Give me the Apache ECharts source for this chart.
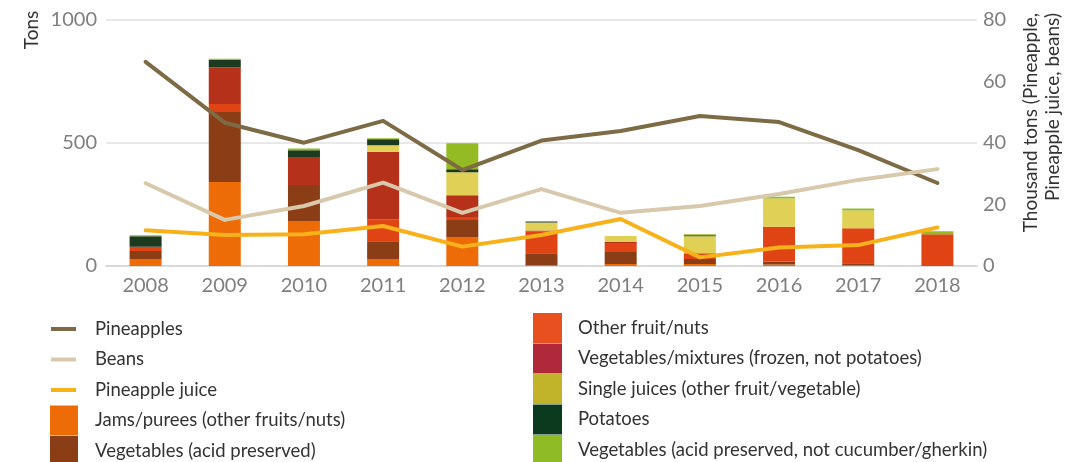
<!DOCTYPE html>
<html>
<head>
<meta charset="utf-8">
<script src="https://cdn.jsdelivr.net/npm/echarts@6/dist/echarts.min.js"></script>
<style>html,body{margin:0;padding:0;background:#fff}#c{width:1077px;height:462px}</style>
</head>
<body>
<div id="c"></div>
<script>
var years = ['2008','2009','2010','2011','2012','2013','2014','2015','2016','2017','2018'];
var jams        = [28, 341, 183, 28, 118, 3, 8, 8, 6, 3, 0];
var vegAcid     = [33, 285, 146, 73, 69, 49, 49, 20, 12, 8, 0];
var otherFruit  = [17, 33, 0, 89, 12, 89, 37, 24, 142, 142, 129];
var vegMix      = [0, 149, 114, 274, 89, 3, 4, 0, 0, 0, 0];
var singleJuice = [0, 0, 0, 27, 93, 33, 24, 69, 114, 73, 0];
var potatoes    = [43, 30, 28, 24, 12, 4, 0, 4, 0, 0, 0];
var vegAcidNot  = [4, 4, 7, 4, 106, 0, 0, 4, 8, 8, 12];
var pineapples     = [66.4, 46.6, 40.1, 47.2, 31.2, 40.8, 43.9, 48.8, 46.8, 37.7, 27.0];
var beans          = [26.9, 15.0, 19.5, 27.1, 17.3, 25.0, 17.3, 19.5, 23.4, 28.0, 31.5];
var pineappleJuice = [11.6, 10.1, 10.3, 13.0, 6.3, 10.1, 15.3, 2.8, 6.0, 6.8, 12.5];
var leftTicks = [0, 500, 1000];
var rightTicks = [0, 20, 40, 60, 80];

var FONT = 'Lato';
var chart = echarts.init(document.getElementById('c'));
function bar(name, data, color) {
  return {name: name, type: 'bar', stack: 'total', yAxisIndex: 0, barWidth: 32,
    data: data, itemStyle: {color: color}, emphasis: {disabled: true}};
}
function line(name, data, color) {
  return {name: name, type: 'line', yAxisIndex: 1, data: data, symbol: 'none', z: 5,
    lineStyle: {color: color, width: 4, cap: 'round', join: 'round'}, itemStyle: {color: color},
    emphasis: {disabled: true}};
}
var lineIcon = 'path://M0,0 M28,30 M1,13 L26,13 L26,17 L1,17 Z';
var legendCommon = {orient: 'vertical', top: 314, height: 200, padding: 0, itemHeight: 30, itemGap: 0.5,
  selectedMode: false, textStyle: {fontFamily: FONT, fontSize: 18.5, color: '#333', padding: [0,0,0,12]}};

chart.setOption({
  animation: false,
  grid: {left: 106, right: 100, top: 20, bottom: 196},
  legend: [
    Object.assign({}, legendCommon, {left: 50, itemWidth: 28, data: [
      {name: 'Pineapples', icon: lineIcon},
      {name: 'Beans', icon: lineIcon},
      {name: 'Pineapple juice', icon: lineIcon},
      {name: 'Jams/purees (other fruits/nuts)', icon: 'rect'},
      {name: 'Vegetables (acid preserved)', icon: 'rect'}
    ]}),
    Object.assign({}, legendCommon, {left: 533, top: 313, itemWidth: 29, textStyle: Object.assign({}, legendCommon.textStyle, {padding: [0,0,0,11]}), data: [
      {name: 'Other fruit/nuts', icon: 'rect', itemStyle: {color: '#E8501F'}},
      {name: 'Vegetables/mixtures (frozen, not potatoes)', icon: 'rect', itemStyle: {color: '#B0293A'}},
      {name: 'Single juices (other fruit/vegetable)', icon: 'rect', itemStyle: {color: '#C2B42A'}},
      {name: 'Potatoes', icon: 'rect', itemStyle: {color: '#0B3A1F'}},
      {name: 'Vegetables (acid preserved, not cucumber/gherkin)', icon: 'rect', itemStyle: {color: '#8FBB24'}}
    ]})
  ],
  xAxis: {type: 'category', data: years, boundaryGap: true,
    axisLine: {lineStyle: {color: '#d9d9d9', width: 2}},
    axisTick: {inside: true, length: 6, lineStyle: {color: '#d9d9d9', width: 2}},
    axisLabel: {color: '#7f7f7f', fontFamily: FONT, fontSize: 20, margin: 10}},
  yAxis: [
    {type: 'value', min: leftTicks[0], max: leftTicks[leftTicks.length-1], interval: 500,
      axisLine: {show: false}, axisTick: {show: false},
      splitLine: {lineStyle: {color: '#e0e0e0', width: 1.5}},
      axisLabel: {color: '#7f7f7f', fontFamily: FONT, fontSize: 20, margin: 9, formatter: function (v) { return String(v); }}},
    {type: 'value', min: rightTicks[0], max: rightTicks[rightTicks.length-1], interval: 20,
      axisLine: {show: false}, axisTick: {show: false}, splitLine: {show: false},
      axisLabel: {color: '#7f7f7f', fontFamily: FONT, fontSize: 20, margin: 6}}
  ],
  graphic: [
    {type: 'text', x: 32, y: 30, rotation: Math.PI/2,
      style: {text: 'Tons', fontFamily: FONT, fontSize: 19, fill: '#333', align: 'center', verticalAlign: 'middle'}},
    {type: 'text', x: 1042, y: 13, rotation: Math.PI/2,
      style: {text: 'Thousand tons (Pineapple,\nPineapple juice, beans)', fontFamily: FONT, fontSize: 19,
        lineHeight: 22, fill: '#333', align: 'right', verticalAlign: 'middle'}}
  ],
  series: [
    bar('Jams/purees (other fruits/nuts)', jams, '#EE6C07'),
    bar('Vegetables (acid preserved)', vegAcid, '#8B3E16'),
    bar('Other fruit/nuts', otherFruit, '#E04415'),
    bar('Vegetables/mixtures (frozen, not potatoes)', vegMix, '#B5311A'),
    bar('Single juices (other fruit/vegetable)', singleJuice, '#E0D055'),
    bar('Potatoes', potatoes, '#1C3A20'),
    bar('Vegetables (acid preserved, not cucumber/gherkin)', vegAcidNot, '#94BA24'),
    line('Pineapples', pineapples, '#7D6B46'),
    line('Beans', beans, '#D8C8AC'),
    line('Pineapple juice', pineappleJuice, '#F7B21B')
  ]
});
</script>
</body>
</html>
